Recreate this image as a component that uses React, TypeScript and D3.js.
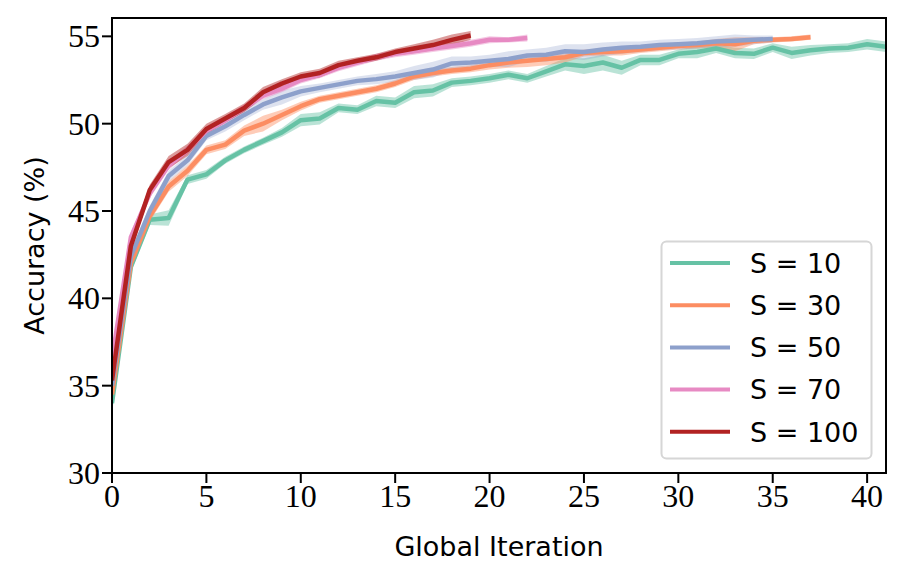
import React from "react";
import * as d3 from "d3";

const labels = ["S = 10", "S = 30", "S = 50", "S = 70", "S = 100"];
const colors = ["#66c2a5", "#fc8d62", "#8da0cb", "#e78ac3", "#b22222"];

const s10 = [34.0, 41.8, 44.5, 44.6, 46.8, 47.1, 47.9, 48.5, 49.0, 49.5, 50.2, 50.3, 50.9, 50.8, 51.3, 51.2, 51.8, 51.9, 52.35, 52.45, 52.6, 52.8, 52.6, 53.0, 53.4, 53.3, 53.5, 53.2, 53.65, 53.65, 54.0, 54.1, 54.3, 54.05, 54.0, 54.35, 54.05, 54.2, 54.3, 54.35, 54.55, 54.4];
const s10Spread = [0.6, 0.3, 0.3, 0.45, 0.25, 0.25, 0.2, 0.2, 0.2, 0.25, 0.35, 0.35, 0.25, 0.25, 0.3, 0.3, 0.35, 0.35, 0.25, 0.25, 0.25, 0.25, 0.25, 0.3, 0.35, 0.45, 0.45, 0.4, 0.3, 0.3, 0.25, 0.35, 0.25, 0.3, 0.3, 0.25, 0.35, 0.3, 0.25, 0.25, 0.3, 0.3];

const s30 = [34.5, 42.0, 44.7, 46.4, 47.3, 48.5, 48.8, 49.6, 50.0, 50.5, 51.0, 51.4, 51.6, 51.8, 52.0, 52.3, 52.7, 52.9, 53.05, 53.15, 53.35, 53.5, 53.6, 53.7, 53.8, 54.05, 54.1, 54.15, 54.25, 54.35, 54.45, 54.5, 54.6, 54.55, 54.75, 54.8, 54.85, 54.95];
const s30Spread = [0.6, 0.3, 0.3, 0.3, 0.3, 0.25, 0.25, 0.3, 0.45, 0.3, 0.25, 0.2, 0.2, 0.2, 0.2, 0.2, 0.2, 0.2, 0.2, 0.2, 0.25, 0.3, 0.35, 0.35, 0.3, 0.2, 0.2, 0.25, 0.2, 0.2, 0.2, 0.2, 0.25, 0.4, 0.2, 0.15, 0.15, 0.15];

const s50 = [35.0, 42.4, 45.0, 47.0, 47.9, 49.3, 49.85, 50.5, 51.1, 51.5, 51.85, 52.05, 52.25, 52.45, 52.55, 52.7, 52.9, 53.1, 53.45, 53.5, 53.6, 53.7, 53.9, 53.95, 54.15, 54.1, 54.25, 54.35, 54.4, 54.5, 54.55, 54.6, 54.7, 54.75, 54.8, 54.85];
const s50Spread = [0.6, 0.3, 0.3, 0.3, 0.3, 0.25, 0.3, 0.3, 0.3, 0.4, 0.3, 0.25, 0.25, 0.25, 0.3, 0.3, 0.4, 0.45, 0.4, 0.35, 0.35, 0.45, 0.35, 0.4, 0.4, 0.45, 0.4, 0.35, 0.3, 0.3, 0.3, 0.3, 0.3, 0.35, 0.25, 0.2];

const s70 = [36.5, 43.5, 46.0, 47.6, 48.5, 49.6, 50.2, 50.9, 51.6, 52.0, 52.5, 52.8, 53.2, 53.5, 53.8, 54.0, 54.15, 54.3, 54.45, 54.6, 54.8, 54.8, 54.9];
const s70Spread = [0.6, 0.3, 0.25, 0.25, 0.25, 0.2, 0.2, 0.2, 0.2, 0.2, 0.2, 0.2, 0.2, 0.2, 0.2, 0.2, 0.2, 0.2, 0.2, 0.2, 0.2, 0.15, 0.2];

const s100 = [35.3, 43.0, 46.2, 47.8, 48.5, 49.7, 50.3, 50.9, 51.8, 52.3, 52.7, 52.9, 53.35, 53.6, 53.8, 54.1, 54.3, 54.5, 54.8, 55.05];
const s100Spread = [0.6, 0.3, 0.3, 0.35, 0.35, 0.3, 0.25, 0.25, 0.3, 0.25, 0.25, 0.25, 0.25, 0.2, 0.2, 0.2, 0.25, 0.3, 0.3, 0.25];

const seriesValues = [s10, s30, s50, s70, s100];
const seriesSpreads = [s10Spread, s30Spread, s50Spread, s70Spread, s100Spread];

const xTicks = [0, 5, 10, 15, 20, 25, 30, 35, 40];
const yTicks = [30, 35, 40, 45, 50, 55];

const W = 906;
const H = 581;
const left = 112;
const right = 886;
const top = 18;
const bottom = 473;

export default function App() {
  const x = d3.scaleLinear().domain([0, 41]).range([left, right]);
  const y = d3.scaleLinear().domain([30, 56.05]).range([bottom, top]);

  const line = d3
    .line<number>()
    .x((_, i) => x(i))
    .y((d) => y(d));

  const tickFont = "'Liberation Serif', 'Times New Roman', serif";
  const sansFont = "'DejaVu Sans', sans-serif";

  return (
    <svg
      width={W}
      height={H}
      style={{ position: "absolute", left: 0, top: 0, background: "#fff" }}
    >
      <defs>
        <clipPath id="plotclip">
          <rect x={left} y={top} width={right - left} height={bottom - top} />
        </clipPath>
      </defs>
      <rect x={0} y={0} width={W} height={H} fill="#fff" />
      <g clipPath="url(#plotclip)">
        {seriesValues.map((vals, si) => {
          const sp = seriesSpreads[si];
          const area = d3
            .area<number>()
            .x((_, i) => x(i))
            .y0((d, i) => y(d - sp[i]))
            .y1((d, i) => y(d + sp[i]));
          return (
            <path
              key={"a" + si}
              d={area(vals) || ""}
              fill={colors[si]}
              fillOpacity={si === 2 ? 0.3 : 0.45}
              stroke="none"
            />
          );
        })}
        {seriesValues.map((vals, si) => (
          <path
            key={"l" + si}
            d={line(vals) || ""}
            fill="none"
            stroke={colors[si]}
            strokeWidth={4.5}
            strokeLinejoin="round"
            strokeLinecap="butt"
          />
        ))}
      </g>

      {/* frame */}
      <rect
        x={left}
        y={top}
        width={right - left}
        height={bottom - top}
        fill="none"
        stroke="#000"
        strokeWidth={2}
      />

      {/* x ticks */}
      {xTicks.map((t) => (
        <g key={"xt" + t}>
          <line x1={x(t)} x2={x(t)} y1={bottom} y2={bottom + 10} stroke="#000" strokeWidth={2} />
          <text
            x={x(t)}
            y={507}
            textAnchor="middle"
            fontFamily={tickFont}
            fontSize={32}
            fill="#000"
          >
            {t}
          </text>
        </g>
      ))}

      {/* y ticks */}
      {yTicks.map((t) => (
        <g key={"yt" + t}>
          <line x1={left - 10} x2={left} y1={y(t)} y2={y(t)} stroke="#000" strokeWidth={2} />
          <text
            x={100}
            y={y(t)}
            dy="0.34em"
            textAnchor="end"
            fontFamily={tickFont}
            fontSize={32}
            fill="#000"
          >
            {t}
          </text>
        </g>
      ))}

      <text
        x={(left + right) / 2}
        y={556}
        textAnchor="middle"
        fontFamily={sansFont}
        fontSize={27}
        fill="#000"
      >
        Global Iteration
      </text>
      <text
        transform={`translate(44, ${(top + bottom) / 2}) rotate(-90)`}
        textAnchor="middle"
        fontFamily={sansFont}
        fontSize={27}
        fill="#000"
      >
        Accuracy (%)
      </text>

      {/* legend */}
      <rect
        x={661.5}
        y={241.5}
        width={210}
        height={217}
        rx={5}
        ry={5}
        fill="#fff"
        fillOpacity={0.8}
        stroke="#d6d6d6"
        strokeWidth={2}
      />
      {labels.map((lab, i) => {
        const ly = 263 + i * 42.2;
        return (
          <g key={"lg" + i}>
            <line x1={670} x2={730} y1={ly} y2={ly} stroke={colors[i]} strokeWidth={4} />
            <text
              x={750}
              y={ly}
              dy="0.36em"
              fontFamily={sansFont}
              fontSize={27}
              fill="#000"
            >
              {lab}
            </text>
          </g>
        );
      })}
    </svg>
  );
}
